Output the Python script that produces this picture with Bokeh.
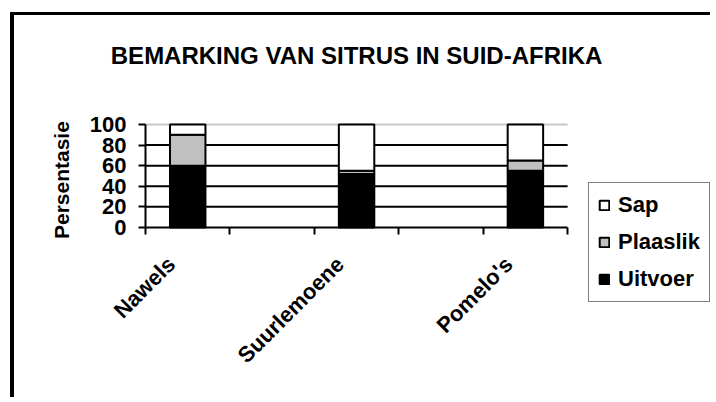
import math
from bokeh.plotting import figure
from bokeh.models import FixedTicker, Legend, LegendItem, ColumnDataSource, Label
from bokeh.embed import file_html
from bokeh.resources import INLINE

# ---- data ----
categories = ["Nawels", "", "Suurlemoene", "", "Pomelo's"]
series = ["Uitvoer", "Plaaslik", "Sap"]
uitvoer = [60, None, 52, None, 55]
plaaslik = [30, None, 3, None, 10]
sap = [10, None, 45, None, 35]
colors = ["#000000", "#c0c0c0", "#ffffff"]
y_ticks = [0, 20, 40, 60, 80, 100]
title = "BEMARKING VAN SITRUS IN SUID-AFRIKA"
y_label = "Persentasie"

FONT = "Liberation Sans"
N = len(categories)

idx = [i for i, c in enumerate(categories) if c]
src = ColumnDataSource(dict(
    x=[i + 1 for i in idx],
    Uitvoer=[uitvoer[i] for i in idx],
    Plaaslik=[plaaslik[i] for i in idx],
    Sap=[sap[i] for i in idx],
))

# The frame covers the whole canvas; axes are placed at fixed locations inside it.
p = figure(width=700, height=385, x_range=(-1.052, 7.24), y_range=(-168.0, 205.8),
           output_backend="svg", toolbar_location=None,
           min_border_left=0, min_border_right=0, min_border_top=0, min_border_bottom=0)
p.styles = {"border-top": "3px solid black", "border-left": "4px solid black"}
p.margin = (12, 0, 0, 10)
p.outline_line_color = None
p.background_fill_color = "white"
p.border_fill_color = "white"

# title
p.add_layout(Label(x=(N + 1) / 2, y=167, text=title, text_align="center",
                   text_baseline="alphabetic", text_font=FONT, text_font_style="bold",
                   text_font_size="24px", text_color="black"))

# grid lines (only across the category area)
p.xgrid.visible = False
p.ygrid.visible = False
gl = y_ticks[1:]
p.segment(x0=[0.5] * len(gl), x1=[N + 0.5] * len(gl), y0=gl, y1=gl,
          line_color=["black"] * (len(gl) - 1) + ["#c8c8c8"], line_width=2)

renderers = p.vbar_stack(series, x="x", width=0.42, source=src, fill_color=colors,
                         line_color="black", line_width=2)

# y axis
p.yaxis.fixed_location = 0.5
p.yaxis.ticker = FixedTicker(ticks=y_ticks)
p.yaxis.bounds = (y_ticks[0], y_ticks[-1])
p.yaxis.axis_line_color = "black"
p.yaxis.axis_line_width = 2
p.yaxis.major_tick_line_width = 2
p.yaxis.major_tick_out = 7
p.yaxis.major_tick_in = 0
p.yaxis.minor_tick_line_color = None
p.yaxis.major_label_text_font = FONT
p.yaxis.major_label_text_font_style = "bold"
p.yaxis.major_label_text_font_size = "22px"
p.yaxis.major_label_text_color = "black"
p.yaxis.major_label_standoff = 12

p.add_layout(Label(x=47, x_units="screen", y=(y_ticks[0] + y_ticks[-1]) / 2 - 4,
                   text=y_label, angle=math.pi / 2, text_align="center",
                   text_baseline="middle", text_font=FONT, text_font_style="bold",
                   text_font_size="21px", text_color="black"))

# x axis (drawn at y = 0)
shift = -0.195
p.xaxis.fixed_location = 0
p.xaxis.bounds = (0.5, N + 0.5)
p.xaxis.ticker = FixedTicker(ticks=[i + 1 + shift for i in idx],
                             minor_ticks=[i + 0.5 for i in range(N + 1)])
p.xaxis.major_label_overrides = {i + 1 + shift: categories[i] for i in idx}
p.xaxis.axis_line_color = "black"
p.xaxis.axis_line_width = 2
p.xaxis.major_tick_line_color = None
p.xaxis.major_tick_out = 0
p.xaxis.major_tick_in = 0
p.xaxis.minor_tick_line_color = "black"
p.xaxis.minor_tick_line_width = 2
p.xaxis.minor_tick_out = 7
p.xaxis.minor_tick_in = 0
p.xaxis.major_label_orientation = math.pi / 4
p.xaxis.major_label_text_font = FONT
p.xaxis.major_label_text_font_style = "bold"
p.xaxis.major_label_text_font_size = "22px"
p.xaxis.major_label_text_color = "black"
p.xaxis.major_label_standoff = 26

# legend
items = [LegendItem(label=s, renderers=[r]) for s, r in zip(series, renderers)][::-1]
legend = Legend(items=items, location=(574, 98), orientation="vertical")
legend.border_line_color = "black"
legend.border_line_width = 1.5
legend.background_fill_color = "white"
legend.label_text_font = FONT
legend.label_text_font_style = "bold"
legend.label_text_font_size = "22px"
legend.label_text_color = "black"
legend.glyph_width = 12
legend.glyph_height = 12
legend.label_standoff = 8
legend.spacing = 11
legend.padding = 9
legend.margin = 0
legend.label_height = 24
p.add_layout(legend, "center")

open("out.html", "w").write(file_html(p, INLINE))
